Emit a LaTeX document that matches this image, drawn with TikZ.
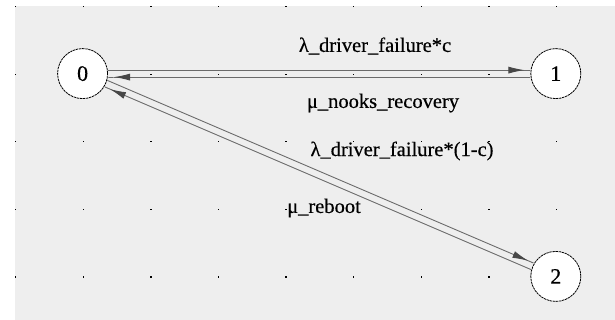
\documentclass[tikz,border=0pt]{standalone}
\usepackage{fontspec}
\setmainfont{Liberation Serif}
\newfontfamily\ratefont[FakeBold=0.4]{Liberation Serif}
\usetikzlibrary{arrows.meta}
\definecolor{canvas-bg}{HTML}{EEEEEE}
\definecolor{edge-gray}{HTML}{6A6A6A}
\definecolor{head-gray}{HTML}{474747}

\begin{document}
\begin{tikzpicture}[x=1pt, y=-1pt,
    state/.style={draw, circle, fill=white, minimum size=50pt, inner sep=0pt,
                  dash pattern=on 2.4pt off 0.7pt, line width=0.8pt,
                  font=\ratefont\fontsize{22}{24}\selectfont},
    trans/.style={draw=edge-gray, line width=0.9pt,
                  -{Latex[length=16pt,width=7pt,color=head-gray] Rectangle[length=6pt,width=0.9pt,color=edge-gray]}},
    rate/.style={font=\ratefont\fontsize{20.5}{22}\selectfont, inner sep=0pt}]
    % Canvas: 615 x 320, grid of dots every 67.6 from (15,6)
    \useasboundingbox (0,0) rectangle (615,320);
    \fill[canvas-bg] (15,6) rectangle (615,320);
    \foreach \i in {0,...,8}
      \foreach \j in {0,...,4}
        \fill (15+67.6*\i,6+67.6*\j) rectangle +(1.3,1.3);

    % states
    \node[state] (s0) at (82.6,73.6) {0};
    \node[state] (s1) at (555.8,73.6) {1};
    \node[state] (s2) at (555.8,276.4) {2};

    % transitions, each pair drawn as two parallel lines
    \draw[trans, transform canvas={yshift=3.5pt}] (s0) -- (s1);
    \draw[trans, transform canvas={yshift=-3.5pt}] (s1) -- (s0);
    \draw[trans, transform canvas={shift={(1.4pt,3.2pt)}}] (s0) -- (s2);
    \draw[trans, transform canvas={shift={(-1.4pt,-3.2pt)}}] (s2) -- (s0);

    % rates
    \node[rate] (r01) at (375,46) {λ\_driver\_failure*c};
    \node[rate] (r10) at (383,103) {μ\_nooks\_recovery};
    \node[rate] (r02) at (402,151) {λ\_driver\_failure*(1-c)};
    \node[rate] (r20) at (324,208) {μ\_reboot};
\end{tikzpicture}
\end{document}
